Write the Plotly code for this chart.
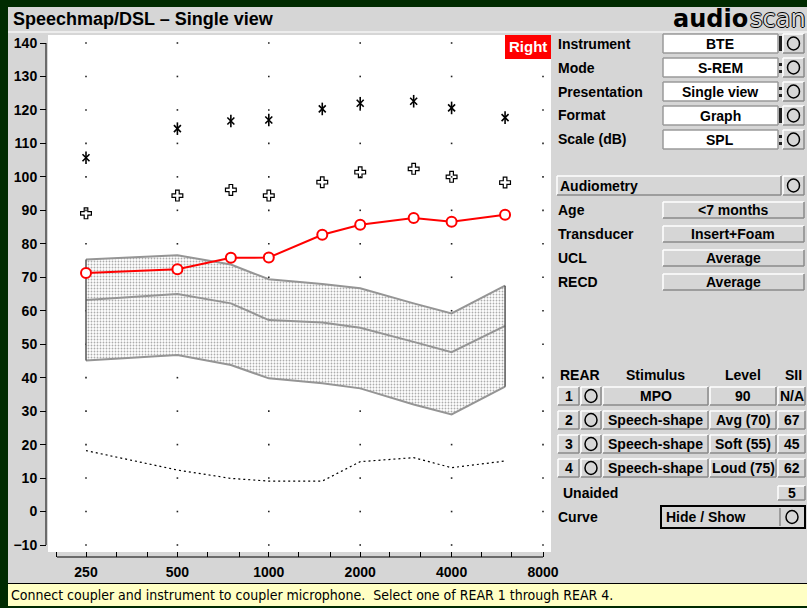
import math
import plotly.graph_objects as go

W, H = 807, 608

# ---------------- data ----------------
freqs = [250, 500, 750, 1000, 1500, 2000, 3000, 4000, 6000]
rear1_mpo = [71.3, 72.4, 75.8, 75.9, 82.7, 85.7, 87.7, 86.6, 88.7]
mpo_targets = [89.1, 94.4, 96.1, 94.4, 98.4, 101.4, 102.4, 100.0, 98.3]
ucl_levels = [105.7, 114.4, 116.7, 117.0, 120.3, 122.0, 122.6, 120.6, 117.7]
speech_upper = [75.3, 76.6, 73.8, 69.4, 68.0, 66.7, 62.2, 59.2, 67.5]
speech_mid = [63.2, 65.0, 62.2, 57.2, 56.5, 54.9, 50.7, 47.6, 55.5]
speech_lower = [45.1, 46.8, 43.8, 39.8, 38.3, 36.8, 32.0, 29.0, 37.3]
threshold = [18.2, 12.4, 9.9, 9.1, 9.1, 14.9, 16.1, 13.1, 15.1]

octave_freqs = [250, 500, 1000, 2000, 4000, 8000]
octave_labels = ["250", "500", "1000", "2000", "4000", "8000"]
third_octave_ticks = [200, 250, 315, 400, 500, 630, 800, 1000, 1250, 1600,
                      2000, 2500, 3150, 4000, 5000, 6300, 8000]
db_ticks = list(range(-10, 141, 10))

instrument_rows = [("Instrument", "BTE", "bar"), ("Mode", "S-REM", "dots"),
                   ("Presentation", "Single view", "dots"), ("Format", "Graph", "bar"),
                   ("Scale (dB)", "SPL", "dots")]
audiometry_rows = [("Age", "<7 months"), ("Transducer", "Insert+Foam"),
                   ("UCL", "Average"), ("RECD", "Average")]
rear_rows = [("1", "MPO", "90", "N/A"), ("2", "Speech-shape", "Avg (70)", "67"),
             ("3", "Speech-shape", "Soft (55)", "45"), ("4", "Speech-shape", "Loud (75)", "62")]
unaided_sii = "5"

# ---------------- geometry ----------------
PANEL = "#d6d6d6"
GREEN = "#002b00"
SANS = "Liberation Sans, Arial, sans-serif"
NARROW = "Liberation Sans Narrow, DejaVu Sans Condensed, sans-serif"

plot_l, plot_r, plot_t, plot_b = 48, 551, 35, 552
x250_px, px_per_oct = 86, (543 - 86) / 5
y140_px, px_per_db = 43, (545 - 43) / 150

f_left = 250 * 2 ** ((plot_l - x250_px) / px_per_oct)
f_right = 250 * 2 ** ((plot_r - x250_px) / px_per_oct)
db_top = 140 + (y140_px - plot_t) / px_per_db
db_bot = 140 - (plot_b - y140_px) / px_per_db


def px(x):
    return x / W


def py(y):
    return 1 - y / H


shapes = []
annotations = []


def rect(x0, y0, x1, y1, fill, line=None, lw=0):
    shapes.append(dict(type="rect", xref="paper", yref="paper",
                       x0=px(x0), x1=px(x1), y0=py(y1), y1=py(y0),
                       fillcolor=fill, line=dict(color=line or fill, width=lw),
                       layer="above"))


def seg(x0, y0, x1, y1, color, w=1):
    shapes.append(dict(type="line", xref="paper", yref="paper",
                       x0=px(x0), x1=px(x1), y0=py(y0), y1=py(y1),
                       line=dict(color=color, width=w), layer="above"))


def bevel(x0, y0, x1, y1, fill, light="#ffffff", dark="#8a8a8a"):
    rect(x0, y0, x1, y1, fill)
    seg(x0, y1, x0, y0, light, 1.5)
    seg(x0, y0, x1, y0, light, 1.5)
    seg(x1, y0, x1, y1, dark, 1.5)
    seg(x0, y1, x1, y1, dark, 1.5)


def circle_btn(x0, y0, x1, y1):
    bevel(x0, y0, x1, y1, PANEL)
    cx, cy = (x0 + x1) / 2, (y0 + y1) / 2
    shapes.append(dict(type="circle", xref="paper", yref="paper",
                       x0=px(cx - 6), x1=px(cx + 6), y0=py(cy + 6.5), y1=py(cy - 6.5),
                       line=dict(color="black", width=1.5), layer="above"))


def text(x, y, s, size=14, bold=True, anchor="left", color="black", family=SANS, **kw):
    annotations.append(dict(xref="paper", yref="paper", x=px(x), y=py(y),
                            text=f"<b>{s}</b>" if bold else s, showarrow=False,
                            xanchor=anchor, yanchor="middle", borderpad=0,
                            font=dict(size=size, color=color, family=family, **kw)))


# ---------------- traces ----------------
fig = go.Figure()

# 10 dB x octave grid of dots
fig.add_trace(go.Scatter(
    x=[f for f in octave_freqs for _ in db_ticks],
    y=[d for _ in octave_freqs for d in db_ticks],
    mode="markers", marker=dict(symbol="square", size=1.6, color="#222222"),
    hoverinfo="skip"))

# speech range (shaded)
band_grey = "#959595"
fig.add_trace(go.Scatter(x=freqs, y=speech_lower, mode="lines",
                         line=dict(color=band_grey, width=2), hoverinfo="skip"))
fig.add_trace(go.Scatter(x=freqs, y=speech_upper, mode="lines", fill="tonexty",
                         fillpattern=dict(shape=".", size=3, solidity=0.3,
                                          fgcolor="#5a5a5a", bgcolor="white"),
                         line=dict(color=band_grey, width=2), hoverinfo="skip"))
fig.add_trace(go.Scatter(x=freqs, y=speech_mid, mode="lines",
                         line=dict(color=band_grey, width=2), hoverinfo="skip"))
for i in (0, -1):
    fig.add_trace(go.Scatter(x=[freqs[i], freqs[i]], y=[speech_lower[i], speech_upper[i]],
                             mode="lines", line=dict(color="#555555", width=1.5),
                             hoverinfo="skip"))

# normal threshold (dotted)
fig.add_trace(go.Scatter(x=freqs, y=threshold, mode="lines",
                         line=dict(color="black", width=1.2, dash="2px,3px"),
                         hoverinfo="skip"))

# REAR 1 MPO
fig.add_trace(go.Scatter(x=freqs, y=rear1_mpo, mode="lines+markers",
                         line=dict(color="#ff0000", width=2),
                         marker=dict(symbol="circle", size=10, color="white",
                                     line=dict(color="#ff0000", width=2))))

# MPO targets (+)
fig.add_trace(go.Scatter(x=freqs, y=mpo_targets, mode="markers",
                         marker=dict(symbol="cross-open", size=9, color="black",
                                     line=dict(color="black", width=1.2))))

# UCL (*)
fig.add_trace(go.Scatter(x=freqs, y=ucl_levels, mode="markers",
                         marker=dict(symbol="x-thin-open", size=7, color="black",
                                     line=dict(color="black", width=1.6))))
fig.add_trace(go.Scatter(x=freqs, y=ucl_levels, mode="markers",
                         marker=dict(symbol="line-ns-open", size=9, color="black",
                                     line=dict(color="black", width=1.6))))

# ---------------- chrome ----------------
# outer frame
rect(0, 0, 8, H, GREEN)
rect(0, 0, W, 7, GREEN)
rect(0, 606, W, H, GREEN)
seg(8, 32, W, 32, "#f4f4f4", 1.5)

# title and logo
text(12, 19, "Speechmap/DSL – Single view", size=18)
text(749, 19, "audio", size=24, anchor="right", family="DejaVu Sans")
text(749, 19, "scan", size=24, anchor="left", family="DejaVu Sans", color=PANEL,
     bold=False, shadow="1px 0 0 #000, -1px 0 0 #000, 0 1px 0 #000, 0 -1px 0 #000")

# axis lines
shapes.append(dict(type="line", xref="paper", yref="y", x0=px(46), x1=px(46),
                   y0=-10, y1=140, line=dict(color="black", width=1)))
seg(57, 557, 543, 557, "black", 1)

# ear indicator
rect(505, 35, 551, 59, "#ff0000")
text(528, 47, "Right", size=15, anchor="center", color="white")

# instrument settings
for i, (lab, val, mark) in enumerate(instrument_rows):
    y0 = 34 + 24 * i
    text(557, y0 + 9.5, lab)
    bevel(663, y0, 778, y0 + 19, "white", light="#9a9a9a", dark="#9a9a9a")
    text(720, y0 + 10, val, anchor="center")
    if mark == "bar":
        rect(779, y0 + 2, 782, y0 + 17, "#222222")
    else:
        rect(779, y0 + 5, 782, y0 + 8, "#222222")
        rect(779, y0 + 12, 782, y0 + 15, "#222222")
    circle_btn(783, y0, 804, y0 + 19)

# audiometry
bevel(557, 176, 781, 195, PANEL)
text(559, 186, "Audiometry")
circle_btn(783, 176, 804, 195)
for i, (lab, val) in enumerate(audiometry_rows):
    yc = 210 + 24 * i
    text(557, yc, lab)
    bevel(663, yc - 8, 804, yc + 8, PANEL)
    text(733, yc, val, anchor="center")

# REAR table
text(559, 375, "REAR")
text(655, 375, "Stimulus", anchor="center")
text(743, 375, "Level", anchor="center")
text(793, 375, "SII", anchor="center")
for i, (num, stim, lvl, sii) in enumerate(rear_rows):
    yc = 396 + 24 * i
    bevel(558, yc - 9, 579, yc + 9, PANEL)
    text(568.5, yc, num, anchor="center")
    circle_btn(581, yc - 9, 601, yc + 9)
    bevel(603, yc - 9, 708, yc + 9, PANEL)
    text(655.5, yc, stim, anchor="center")
    bevel(710, yc - 9, 776, yc + 9, PANEL)
    text(743, yc, lvl, anchor="center")
    bevel(778, yc - 9, 805, yc + 9, PANEL)
    text(791.5, yc, sii, anchor="center")

text(562, 493, "Unaided")
bevel(778, 486, 805, 500, PANEL)
text(791.5, 493, unaided_sii, anchor="center")

text(557, 517, "Curve")
rect(661, 506, 805, 528, PANEL, line="black", lw=2)
text(665, 517, "Hide / Show")
seg(780, 508, 780, 526, "#8a8a8a", 1.5)
shapes.append(dict(type="circle", xref="paper", yref="paper",
                   x0=px(786), x1=px(798), y0=py(523.5), y1=py(510.5),
                   line=dict(color="black", width=1.5), layer="above"))

# status bar
rect(8, 584, W, 606, "#ffffc4")
seg(8, 583.5, W, 583.5, "black", 1)
text(10, 595, "Connect coupler and instrument to coupler microphone.  Select one of REAR 1 through REAR 4.",
     size=14, bold=False, family=NARROW)

# ---------------- layout ----------------
fig.update_layout(
    width=W, height=H, autosize=False,
    margin=dict(l=0, r=0, t=0, b=0, pad=0, autoexpand=False),
    paper_bgcolor=PANEL, plot_bgcolor="white",
    showlegend=False,
    shapes=shapes, annotations=annotations,
    xaxis=dict(type="log", range=[math.log10(f_left), math.log10(f_right)],
               domain=[px(plot_l), px(plot_r)], anchor="free", position=py(557),
               automargin=False,
               showgrid=False, zeroline=False, showline=False,
               tickvals=third_octave_ticks,
               ticktext=[octave_labels[octave_freqs.index(f)] if f in octave_freqs else ""
                         for f in third_octave_ticks],
               ticks="inside", ticklen=5, tickwidth=1, tickcolor="black",
               ticklabelstandoff=5,
               tickfont=dict(family=SANS, size=14, color="black", weight="bold")),
    yaxis=dict(range=[db_bot, db_top],
               domain=[py(plot_b), py(plot_t)], anchor="free", position=px(46),
               automargin=False,
               showgrid=False, zeroline=False, showline=False,
               tickvals=db_ticks, ticktext=[str(d).replace("-", "−") for d in db_ticks],
               ticks="outside", ticklen=6, tickwidth=1, tickcolor="black",
               tickfont=dict(family=SANS, size=14, color="black", weight="bold")),
)

fig.write_html("out.html", config={"displayModeBar": False})
